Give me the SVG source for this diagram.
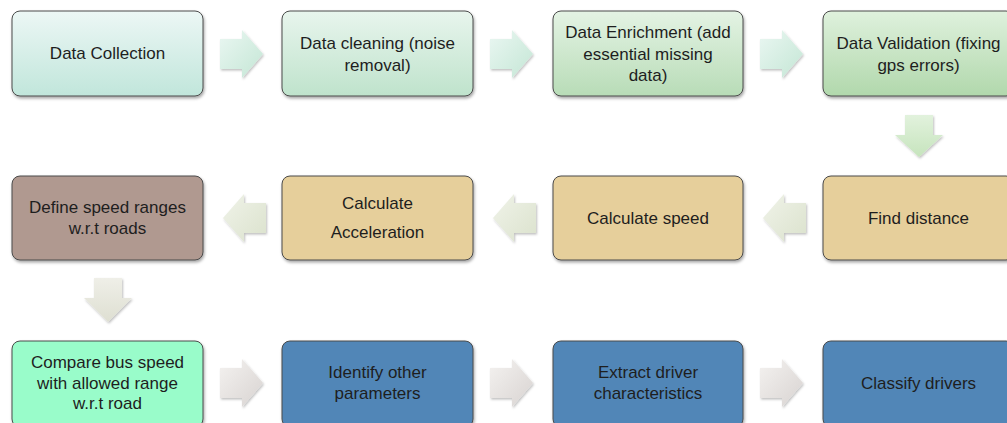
<svg xmlns="http://www.w3.org/2000/svg" width="1007" height="423" viewBox="0 0 1007 423">
<defs>
<linearGradient id="gb1" x1="0" y1="0" x2="0" y2="1"><stop offset="0" stop-color="#ecf7f5"/><stop offset="1" stop-color="#c1e6db"/></linearGradient>
<linearGradient id="gb2" x1="0" y1="0" x2="0" y2="1"><stop offset="0" stop-color="#e8f5ed"/><stop offset="1" stop-color="#bfe3cc"/></linearGradient>
<linearGradient id="gb3" x1="0" y1="0" x2="0" y2="1"><stop offset="0" stop-color="#e4f3e4"/><stop offset="1" stop-color="#b8dcb7"/></linearGradient>
<linearGradient id="gb4" x1="0" y1="0" x2="0" y2="1"><stop offset="0" stop-color="#dff1dd"/><stop offset="1" stop-color="#b1d8ac"/></linearGradient>
<linearGradient id="ga1" x1="0" y1="0" x2="1" y2="1"><stop offset="0" stop-color="#eaf7f2"/><stop offset="1" stop-color="#c4e6d5"/></linearGradient>
<linearGradient id="ga2" x1="0" y1="0" x2="1" y2="1"><stop offset="0" stop-color="#f0f3e9"/><stop offset="1" stop-color="#dbe2cd"/></linearGradient>
<linearGradient id="ga3" x1="0" y1="0" x2="1" y2="1"><stop offset="0" stop-color="#f4f2f0"/><stop offset="1" stop-color="#d8d3d1"/></linearGradient>
<linearGradient id="gd1" x1="0" y1="0" x2="0" y2="1"><stop offset="0" stop-color="#e2f2dd"/><stop offset="1" stop-color="#c6e4bd"/></linearGradient>
<linearGradient id="gd2" x1="0" y1="0" x2="0" y2="1"><stop offset="0" stop-color="#efefe8"/><stop offset="1" stop-color="#dedfd2"/></linearGradient>
<filter id="sh" x="-10%" y="-10%" width="125%" height="130%"><feDropShadow dx="1" dy="2" stdDeviation="1.5" flood-color="#000" flood-opacity="0.35"/></filter>
<filter id="ash" x="-10%" y="-10%" width="130%" height="130%"><feDropShadow dx="1" dy="1.5" stdDeviation="1.2" flood-color="#000" flood-opacity="0.25"/></filter>
</defs>
<style>
.box{stroke:#4a4a4a;stroke-width:1;filter:url(#sh)}
.arr{stroke:none;filter:url(#ash)}
text{font-family:"Liberation Sans",Arial,sans-serif;font-size:17px;fill:#1e1e1e;text-anchor:middle}
</style>
<rect width="1007" height="423" fill="#ffffff"/>
<g id="connectors">
<path class="arr" fill="url(#ga1)" d="M220,39 H242 V30 L263,54 L242,78 V69 H220 Z"/>
<path class="arr" fill="url(#ga1)" d="M490,39 H512 V30 L533,54 L512,78 V69 H490 Z"/>
<path class="arr" fill="url(#ga1)" d="M760,39 H782 V30 L803,54 L782,78 V69 H760 Z"/>
<path class="arr" fill="url(#gd1)" d="M905,115 H933 V135 H943 L919,157 L895,135 H905 Z"/>
<path class="arr" fill="url(#ga2)" d="M806,203 H784 V194 L763,218 L784,242 V233 H806 Z"/>
<path class="arr" fill="url(#ga2)" d="M536,203 H514 V194 L493,218 L514,242 V233 H536 Z"/>
<path class="arr" fill="url(#ga2)" d="M266,203 H244 V194 L223,218 L244,242 V233 H266 Z"/>
<path class="arr" fill="url(#gd2)" d="M94,278 H122 V298 H132 L108,322 L84,298 H94 Z"/>
<path class="arr" fill="url(#ga3)" d="M220,368 H242 V359 L263,383 L242,407 V398 H220 Z"/>
<path class="arr" fill="url(#ga3)" d="M490,368 H512 V359 L533,383 L512,407 V398 H490 Z"/>
<path class="arr" fill="url(#ga3)" d="M760,368 H782 V359 L803,383 L782,407 V398 H760 Z"/>
</g>
<g id="n1"><rect class="box" x="12" y="11" width="191" height="85" rx="8" fill="url(#gb1)"/><text x="107.5" y="59">Data Collection</text></g>
<g id="n2"><rect class="box" x="282" y="11" width="191" height="85" rx="8" fill="url(#gb2)"/><text x="377.5" y="49">Data cleaning (noise</text><text x="377.5" y="71">removal)</text></g>
<g id="n3"><rect class="box" x="553" y="11" width="190" height="85" rx="8" fill="url(#gb3)"/><text x="648" y="38">Data Enrichment (add</text><text x="648" y="59.5">essential missing</text><text x="648" y="81">data)</text></g>
<g id="n4"><rect class="box" x="823" y="11" width="191" height="85" rx="8" fill="url(#gb4)"/><text x="918.5" y="49">Data Validation (fixing</text><text x="918.5" y="71">gps errors)</text></g>
<g id="n5"><rect class="box" x="823" y="176" width="191" height="84" rx="8" fill="#e6cf9b"/><text x="918.5" y="224">Find distance</text></g>
<g id="n6"><rect class="box" x="553" y="176" width="190" height="84" rx="8" fill="#e6cf9b"/><text x="648" y="224">Calculate speed</text></g>
<g id="n7"><rect class="box" x="282" y="176" width="191" height="84" rx="8" fill="#e6cf9b"/><text x="377.5" y="209">Calculate</text><text x="377.5" y="238">Acceleration</text></g>
<g id="n8"><rect class="box" x="12" y="176" width="191" height="84" rx="8" fill="#b09990"/><text x="107.5" y="213">Define speed ranges</text><text x="107.5" y="234">w.r.t roads</text></g>
<g id="n9"><rect class="box" x="12" y="341" width="191" height="86" rx="8" fill="#99fcca"/><text x="107.5" y="368">Compare bus speed</text><text x="107.5" y="389">with allowed range</text><text x="107.5" y="409">w.r.t road</text></g>
<g id="n10"><rect class="box" x="282" y="341" width="191" height="86" rx="8" fill="#5186b7"/><text x="377.5" y="378">Identify other</text><text x="377.5" y="399">parameters</text></g>
<g id="n11"><rect class="box" x="553" y="341" width="190" height="86" rx="8" fill="#5186b7"/><text x="648" y="378">Extract driver</text><text x="648" y="399">characteristics</text></g>
<g id="n12"><rect class="box" x="823" y="341" width="191" height="86" rx="8" fill="#5186b7"/><text x="918.5" y="389">Classify drivers</text></g>
</svg>
